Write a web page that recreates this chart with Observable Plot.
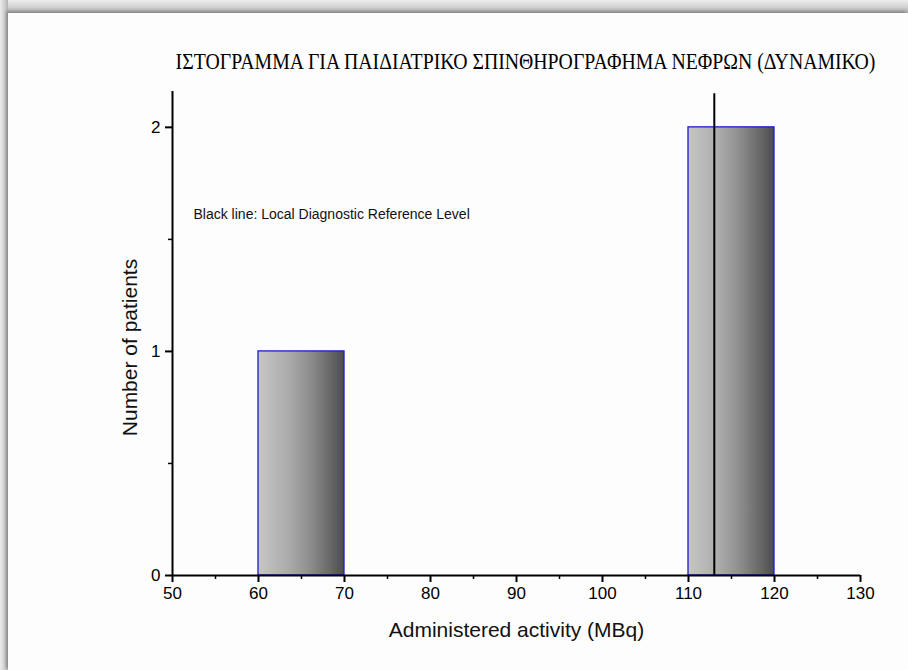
<!DOCTYPE html>
<html>
<head>
<meta charset="utf-8">
<script src="https://cdn.jsdelivr.net/npm/d3@7"></script>
<script src="https://cdn.jsdelivr.net/npm/@observablehq/plot@0.6"></script>
<style>
  html, body { margin: 0; padding: 0; }
  #sheet {
    position: relative; width: 908px; height: 670px; overflow: hidden;
    background:
      linear-gradient(90deg, #ececec 0px, #d4d4d4 4px, #b2b2b2 8px, transparent 8px),
      linear-gradient(180deg, #ededed 0px, #d6d6d6 6px, #b0b0b0 13px, #f4f4f4 13px);
  }
  #page {
    position: absolute; left: 8px; top: 13px; width: 900px; height: 657px;
    background: #fdfdfd;
    box-shadow: -2px -2px 3px rgba(0,0,0,0.25);
  }
</style>
</head>
<body>
<div id="sheet"><div id="page"></div></div>
<script>
// Histogram bins (MBq) and number of patients in each
const binStart = [60, 110];
const binEnd = [70, 120];
const patients = [1, 2];

// Local Diagnostic Reference Level (MBq)
const referenceLevel = [113];

// Axis ticks
const xTicks = [50, 60, 70, 80, 90, 100, 110, 120, 130];
const xMinorTicks = [55, 65, 75, 85, 95, 105, 115, 125];
const yTicks = [0, 1, 2];
const yMinorTicks = [0.5, 1.5];

const titleText = "ΙΣΤΟΓΡΑΜΜΑ ΓΙΑ ΠΑΙΔΙΑΤΡΙΚΟ ΣΠΙΝΘΗΡΟΓΡΑΦΗΜΑ ΝΕΦΡΩΝ (ΔΥΝΑΜΙΚΟ)";
const noteText = "Black line: Local Diagnostic Reference Level";
const xLabel = "Administered activity (MBq)";
const yLabel = "Number of patients";

const bins = binStart.map((s, i) => ({start: s, end: binEnd[i], count: patients[i]}));

const sans = "Arial, 'Liberation Sans', Helvetica, sans-serif";

const chart = Plot.plot({
  width: 900,
  height: 657,
  marginLeft: 164,
  marginRight: 48,
  marginTop: 78,
  marginBottom: 95,
  style: {background: "transparent", fontFamily: sans, color: "#000"},
  x: {domain: [50, 130]},
  y: {domain: [0, 2.16]},
  marks: [
    Plot.rectY(bins, {
      x1: "start", x2: "end", y1: 0, y2: "count",
      fill: "url(#barShade)", stroke: "#1c1cd0", strokeWidth: 1.3
    }),
    Plot.ruleX(referenceLevel, {y1: 0, y2: 2.15, stroke: "#000", strokeWidth: 2}),
    Plot.ruleY([0], {stroke: "#000", strokeWidth: 2}),
    Plot.ruleX([50], {stroke: "#000", strokeWidth: 2}),
    Plot.axisX({ticks: xTicks, tickSize: 7, tickPadding: 4, strokeWidth: 2, fontSize: 17, label: null}),
    Plot.axisX({ticks: xMinorTicks, tickSize: 4, strokeWidth: 1.5, tickFormat: () => "", label: null}),
    Plot.axisY({ticks: yTicks, tickSize: 7, tickPadding: 5, strokeWidth: 2, fontSize: 17,
      tickFormat: d3.format("d"), label: null}),
    Plot.axisY({ticks: yMinorTicks, tickSize: 4, strokeWidth: 1.5, tickFormat: () => "", label: null}),
    Plot.text([noteText], {
      text: d => d, frameAnchor: "top-left", textAnchor: "start", lineAnchor: "middle",
      dx: 21, dy: 123, fontSize: 14, fill: "#111"
    }),
    Plot.text([xLabel], {
      text: d => d, frameAnchor: "bottom", lineAnchor: "middle", dy: 55, fontSize: 21, fill: "#111"
    }),
    Plot.text([yLabel], {
      text: d => d, frameAnchor: "left", textAnchor: "middle", lineAnchor: "middle", rotate: -90,
      dx: -42, dy: 14, fontSize: 21, fill: "#111"
    }),
    Plot.text([titleText], {
      text: d => d, frameAnchor: "top", lineAnchor: "bottom", dx: 9, dy: -23,
      fontSize: 24, fontFamily: "'Liberation Serif', 'Times New Roman', serif", fill: "#000"
    })
  ]
});

// Horizontal grey shading used inside each bar
const svg = d3.select(chart);
const grad = svg.insert("defs", ":first-child")
  .append("linearGradient")
  .attr("id", "barShade")
  .attr("x1", "0").attr("y1", "0").attr("x2", "1").attr("y2", "0");
[[0, "#c6c6c6"], [0.35, "#acacac"], [0.6, "#8e8e8e"], [0.85, "#666666"], [1, "#4c4c4c"]]
  .forEach(([o, c]) => grad.append("stop").attr("offset", o).attr("stop-color", c));

chart.style.position = "absolute";
chart.style.left = "0px";
chart.style.top = "0px";
document.getElementById("page").appendChild(chart);

// Condense the serif title horizontally so it spans 700px
svg.selectAll("text").filter(function () { return this.textContent === titleText; })
  .each(function () {
    const natural = this.getComputedTextLength();
    const k = 700 / natural;
    const t = this.getAttribute("transform") || "";
    this.setAttribute("transform", t + ` scale(${k.toFixed(4)},1)`);
  });
</script>
</body>
</html>
